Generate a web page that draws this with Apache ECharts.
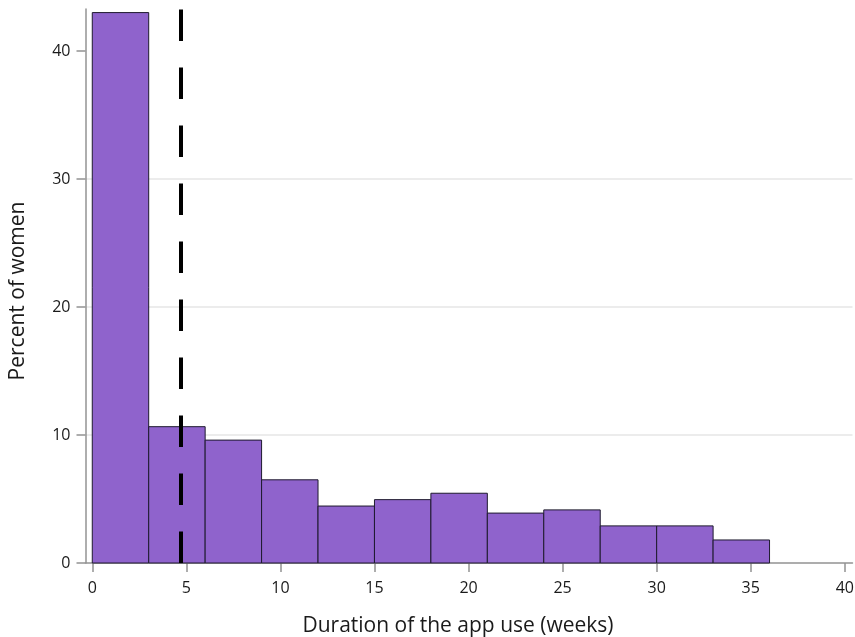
<!DOCTYPE html>
<html>
<head>
<meta charset="utf-8">
<script src="https://cdn.jsdelivr.net/npm/echarts@6/dist/echarts.min.js"></script>
<style>html,body{margin:0;padding:0;background:#fff}#c{width:855px;height:637px}</style>
</head>
<body>
<div id="c"></div>
<script>
// Histogram bins (weeks) and percent of women
var binStarts = [0, 3, 6, 9, 12, 15, 18, 21, 24, 27, 30, 33];
var binWidth = 3;
var percents = [43.0, 10.65, 9.6, 6.5, 4.45, 4.95, 5.45, 3.9, 4.15, 2.9, 2.9, 1.8];
var xTicks = [0, 5, 10, 15, 20, 25, 30, 35, 40];
var yTicks = [0, 10, 20, 30, 40];
var meanLine = 4.72;

var data = binStarts.map(function (s, i) { return [s, s + binWidth, percents[i]]; });
var FONT = '"Open Sans", "Noto Sans", sans-serif';

var chart = echarts.init(document.getElementById('c'), null, {renderer: 'canvas'});
chart.setOption({
  animation: false,
  backgroundColor: '#ffffff',
  grid: {left: 85.5, top: 9, width: 767, height: 554, containLabel: false, outerBoundsMode: 'none'},
  xAxis: {
    type: 'value', min: -0.36, max: 40.41,
    name: 'Duration of the app use (weeks)', nameLocation: 'middle', nameGap: 53,
    nameTextStyle: {fontSize: 21, color: '#1a1a1a', fontFamily: FONT, padding: [0, 22, 0, 0]},
    axisLine: {show: true, onZero: false, lineStyle: {color: '#939393', width: 1.5}},
    axisTick: {show: true, length: 9, customValues: xTicks, lineStyle: {color: '#939393', width: 1.5}},
    axisLabel: {customValues: xTicks, fontSize: 16, color: '#1a1a1a', fontFamily: FONT, margin: 17},
    splitLine: {show: false}
  },
  yAxis: {
    type: 'value', min: 0, max: 43.28,
    name: 'Percent of women', nameLocation: 'middle', nameGap: 57, nameRotate: 90,
    nameTextStyle: {fontSize: 21, color: '#1a1a1a', fontFamily: FONT, padding: [0, 10, 0, 0]},
    axisLine: {show: true, onZero: false, lineStyle: {color: '#939393', width: 1.5}},
    axisTick: {show: true, length: 9, customValues: yTicks, lineStyle: {color: '#939393', width: 1.5}},
    axisLabel: {customValues: yTicks, fontSize: 16, color: '#1a1a1a', fontFamily: FONT, margin: 15},
    splitLine: {show: true, showMinLine: false, showMaxLine: false, lineStyle: {color: '#e6e6e6', width: 1.5}},
    interval: 10
  },
  series: [{
    type: 'custom',
    data: data,
    encode: {x: [0, 1], y: 2},
    renderItem: function (params, api) {
      var p0 = api.coord([api.value(0), api.value(2)]);
      var p1 = api.coord([api.value(1), 0]);
      return {
        type: 'rect',
        shape: {x: p0[0], y: p0[1], width: p1[0] - p0[0], height: p1[1] - p0[1]},
        style: {fill: '#8f63cc', stroke: '#1e1a2e', lineWidth: 1}
      };
    },
    markLine: {
      silent: true, symbol: 'none', label: {show: false},
      lineStyle: {color: '#000', width: 4, type: [31.5, 26.5]},
      data: [[{coord: [meanLine, 0]}, {coord: [meanLine, 43.28]}]]
    },
    z: 2
  }]
});
</script>
</body>
</html>
